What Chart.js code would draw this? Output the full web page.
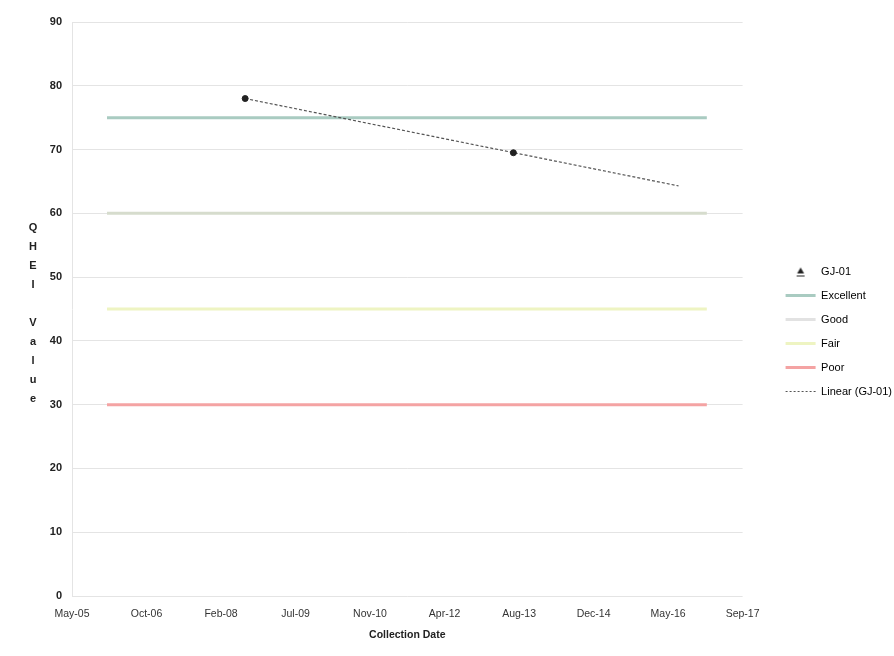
<!DOCTYPE html>
<html>
<head>
<meta charset="utf-8">
<script src="https://cdn.jsdelivr.net/npm/chart.js@4/dist/chart.umd.min.js"></script>
<style>
  html, body { margin: 0; padding: 0; background: #fff; }
  #qheiChart { display: block; }
</style>
</head>
<body>
<canvas id="qheiChart" width="894" height="656"></canvas>
<script>
// x axis is days counted from 1 May 2005, tick every 500 days
const xTickLabels = ["May-05", "Oct-06", "Feb-08", "Jul-09", "Nov-10", "Apr-12", "Aug-13", "Dec-14", "May-16", "Sep-17"];
const yTickValues = [0, 10, 20, 30, 40, 50, 60, 70, 80, 90];

// GJ-01 samples
const gjDays = [1162, 2962];
const gjValues = [78, 69.5];

// rating lines
const bandDays = [235, 4260];
const excellentValues = [75, 75];
const goodValues = [60, 60];
const fairValues = [45, 45];
const poorValues = [30, 30];

// linear trend (GJ-01)
const trendDays = [1162, 4070];
const trendValues = [78, 64.3];

const yTitle = "QHEI Value";
const xTitle = "Collection Date";

function toPoints(xs, ys) {
    return xs.map((x, i) => ({ x: x, y: ys[i] }));
}

// small triangle over a short bar, used as the GJ-01 legend symbol
function triangleIcon() {
    const c = document.createElement("canvas");
    c.width = 30;
    c.height = 12;
    const g = c.getContext("2d");
    g.fillStyle = "#222";
    g.beginPath();
    g.moveTo(15, 2);
    g.lineTo(18.5, 8);
    g.lineTo(11.5, 8);
    g.closePath();
    g.fill();
    g.fillRect(11, 10, 8, 1);
    return c;
}

// legend look for each entry
const legendStyles = [
    { text: "GJ-01", pointStyle: triangleIcon(), fillStyle: "#222", strokeStyle: "#222", lineWidth: 1, lineDash: [] },
    { text: "Excellent", pointStyle: "line", fillStyle: "#a9cbc1", strokeStyle: "#a9cbc1", lineWidth: 3, lineDash: [] },
    { text: "Good", pointStyle: "line", fillStyle: "#e2e2e2", strokeStyle: "#e2e2e2", lineWidth: 3, lineDash: [] },
    { text: "Fair", pointStyle: "line", fillStyle: "#eef4c2", strokeStyle: "#eef4c2", lineWidth: 3, lineDash: [] },
    { text: "Poor", pointStyle: "line", fillStyle: "#f4a3a3", strokeStyle: "#f4a3a3", lineWidth: 3, lineDash: [] },
    { text: "Linear (GJ-01)", pointStyle: "line", fillStyle: "#555", strokeStyle: "#555", lineWidth: 1, lineDash: [2, 2] }
];

// stacked letters for the y axis title
const stackedTitle = {
    id: "stackedTitle",
    afterDraw(chart) {
        const ctx = chart.ctx;
        ctx.save();
        ctx.font = "bold 11px 'Liberation Sans', Arial, sans-serif";
        ctx.fillStyle = "#222";
        ctx.textAlign = "center";
        ctx.textBaseline = "middle";
        const letters = yTitle.split("");
        letters.forEach((ch, i) => {
            ctx.fillText(ch, 33, 228 + i * 19);
        });
        ctx.restore();
    }
};

const ctx = document.getElementById("qheiChart").getContext("2d");
const qheiChart = new Chart(ctx, {
    type: "scatter",
    data: {
        datasets: [
            {
                label: "GJ-01",
                data: toPoints(gjDays, gjValues),
                showLine: false,
                pointStyle: "circle",
                pointRadius: 3,
                backgroundColor: "#222",
                borderColor: "#222",
                order: 0
            },
            {
                label: "Excellent",
                data: toPoints(bandDays, excellentValues),
                showLine: true,
                borderColor: "#a9cbc1",
                borderWidth: 3,
                pointRadius: 0,
                order: 2
            },
            {
                label: "Good",
                data: toPoints(bandDays, goodValues),
                showLine: true,
                borderColor: "#d6dccd",
                borderWidth: 3,
                pointRadius: 0,
                order: 2
            },
            {
                label: "Fair",
                data: toPoints(bandDays, fairValues),
                showLine: true,
                borderColor: "#eef4c2",
                borderWidth: 3,
                pointRadius: 0,
                order: 2
            },
            {
                label: "Poor",
                data: toPoints(bandDays, poorValues),
                showLine: true,
                borderColor: "#f4a3a3",
                borderWidth: 3,
                pointRadius: 0,
                order: 2
            },
            {
                label: "Linear (GJ-01)",
                data: toPoints(trendDays, trendValues),
                showLine: true,
                borderColor: "#555",
                borderWidth: 1.2,
                borderDash: [3, 2],
                pointRadius: 0,
                order: 1
            }
        ]
    },
    options: {
        responsive: false,
        animation: false,
        layout: { padding: { top: 22, left: 0, right: -8, bottom: 15 } },
        plugins: {
            tooltip: { enabled: false },
            legend: {
                position: "right",
                labels: {
                    usePointStyle: true,
                    pointStyleWidth: 30,
                    boxHeight: 7,
                    padding: 13,
                    color: "#222",
                    font: { family: "'Liberation Sans', Arial, sans-serif", size: 11 },
                    generateLabels(chart) {
                        return legendStyles.map((s, i) => ({
                            text: s.text,
                            pointStyle: s.pointStyle,
                            fillStyle: s.fillStyle,
                            strokeStyle: s.strokeStyle,
                            lineWidth: s.lineWidth,
                            lineDash: s.lineDash,
                            hidden: false,
                            datasetIndex: i
                        }));
                    }
                }
            }
        },
        scales: {
            x: {
                type: "linear",
                min: 0,
                max: 4500,
                afterBuildTicks(scale) {
                    scale.ticks = xTickLabels.map((l, i) => ({ value: i * 500 }));
                },
                afterFit(scale) { scale.height = 45; },
                grid: { display: false, drawTicks: false },
                border: { display: false },
                ticks: {
                    padding: 12,
                    color: "#333",
                    maxRotation: 0,
                    autoSkip: false,
                    font: { family: "'Liberation Sans', Arial, sans-serif", size: 10.5 },
                    callback: (v) => xTickLabels[Math.round(v / 500)]
                },
                title: {
                    display: true,
                    text: xTitle,
                    color: "#222",
                    padding: { top: 2, bottom: 0 },
                    font: { family: "'Liberation Sans', Arial, sans-serif", size: 10.5, weight: "bold" }
                }
            },
            y: {
                min: 0,
                max: 90,
                afterBuildTicks(scale) {
                    scale.ticks = yTickValues.map(v => ({ value: v }));
                },
                afterFit(scale) { scale.width = 72; },
                grid: { color: "#e4e4e4", lineWidth: 1, drawTicks: false },
                border: { display: true, color: "#e4e4e4" },
                ticks: {
                    padding: 10,
                    color: "#222",
                    font: { family: "'Liberation Sans', Arial, sans-serif", size: 11, weight: "bold" }
                }
            },
            gap: {
                type: "linear",
                position: "right",
                display: true,
                grid: { display: false, drawTicks: false },
                border: { display: false },
                ticks: { display: false },
                afterFit(scale) { scale.width = 30; }
            }
        }
    },
    plugins: [stackedTitle]
});
</script>
</body>
</html>
